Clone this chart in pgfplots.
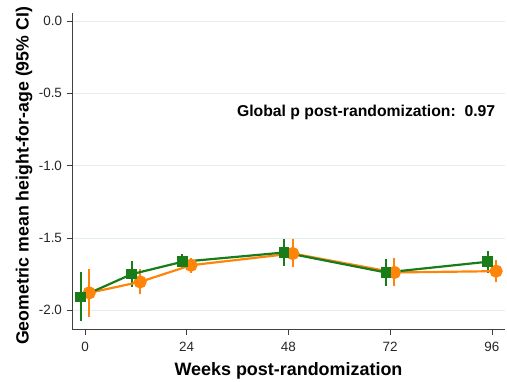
\documentclass[border=0pt]{standalone}
\usepackage{pgfplots}
\pgfplotsset{compat=1.18}
\usepackage{fontspec}
\setmainfont{Liberation Sans}

\definecolor{armgreen}{RGB}{24,125,24}
\definecolor{armorange}{RGB}{255,133,10}
\definecolor{gridcol}{RGB}{228,238,238}

% Arm A (green squares), plotted 1 week left of the visit
\pgfplotstableread{
x    y       lo      hi
-1   -1.908  -2.076  -1.739
11   -1.751  -1.839  -1.663
23   -1.665  -1.711  -1.608
47   -1.601  -1.693  -1.509
71   -1.739  -1.834  -1.647
95   -1.665  -1.742  -1.592
}\armA

% Arm B (orange circles), plotted 1 week right of the visit
\pgfplotstableread{
x    y       lo      hi
1    -1.880  -2.050  -1.716
13   -1.804  -1.889  -1.718
25   -1.689  -1.742  -1.642
49   -1.608  -1.700  -1.511
73   -1.739  -1.834  -1.642
97   -1.730  -1.808  -1.654
}\armB

\begin{document}
\begin{tikzpicture}[x=1bp,y=1bp]
\begin{axis}[
  name=ax,
  scale only axis,
  width=433bp, height=316bp,
  xmin=-3.07, xmax=99.1,
  ymin=-2.13, ymax=0.055,
  axis lines*=left,
  axis line style={draw=black!75, line width=0.8pt},
  xtick={0,24,48,72,96},
  ytick={-2,-1.5,-1,-0.5,0},
  yticklabels={-2.0,-1.5,-1.0,-0.5,0.0},
  xticklabels={0,24,48,72,96},
  tick align=outside,
  major tick length=5.5bp,
  tick style={draw=black!75, line width=0.6pt},
  ymajorgrids,
  grid style={draw=gridcol, line width=0.6pt},
  ticklabel style={font=\fontsize{13.5}{15}\selectfont, text=black!85},
  yticklabel style={xshift=-1bp},
  xticklabel style={yshift=-4bp},
  xlabel={\textbf{Weeks post-randomization}},
  ylabel={\textbf{Geometric mean height-for-age (95\% CI)}},
  label style={font=\fontsize{18}{20}\selectfont},
  xlabel style={yshift=-4bp},
  ylabel style={yshift=-0.5bp, xshift=-5bp, font=\fontsize{17.8}{20}\selectfont},
  clip=false,
]
  % confidence intervals
  \pgfplotsinvokeforeach{0,...,5}{
    \pgfplotstablegetelem{#1}{x}\of\armA \let\ax\pgfplotsretval
    \pgfplotstablegetelem{#1}{lo}\of\armA \let\alo\pgfplotsretval
    \pgfplotstablegetelem{#1}{hi}\of\armA \let\ahi\pgfplotsretval
    \edef\tmp{\noexpand\addplot[armgreen, line width=2pt, forget plot] coordinates {(\ax,\alo) (\ax,\ahi)};}\tmp
    \pgfplotstablegetelem{#1}{x}\of\armB \let\bx\pgfplotsretval
    \pgfplotstablegetelem{#1}{lo}\of\armB \let\blo\pgfplotsretval
    \pgfplotstablegetelem{#1}{hi}\of\armB \let\bhi\pgfplotsretval
    \edef\tmp{\noexpand\addplot[armorange, line width=2pt, forget plot] coordinates {(\bx,\blo) (\bx,\bhi)};}\tmp
  }
  \addplot[armorange, line width=2.2pt, mark=*, mark size=5.5bp,
           mark options={fill=armorange, draw=armorange}] table[x=x,y=y] {\armB};
  \addplot[armgreen, line width=2.2pt, mark=square*, mark size=4.2bp,
           mark options={fill=armgreen, draw=armgreen}] table[x=x,y=y] {\armA};
  \node[anchor=east, font=\fontsize{15.8}{18}\selectfont\bfseries]
    at (axis cs:97.6,-0.63) {Global p post-randomization:\ \ 0.97};
\end{axis}
\pgfresetboundingbox
\path ([xshift=-72bp,yshift=-52bp]ax.south west) rectangle ([xshift=2bp,yshift=13bp]ax.north east);
\end{tikzpicture}
\end{document}
